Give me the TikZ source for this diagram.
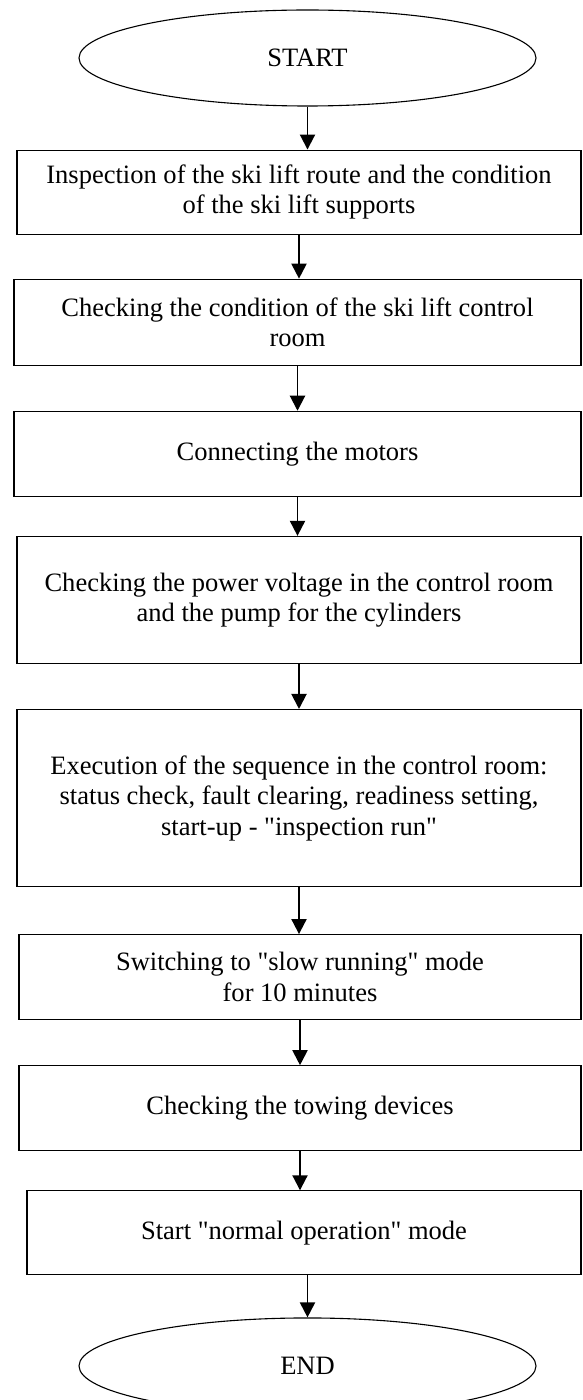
\documentclass[tikz,border=0pt]{standalone}
\usepackage{fontspec}
\setmainfont{Liberation Serif}[Ligatures=TeXOff]
\usepackage{tikz}
\usetikzlibrary{positioning}
\usetikzlibrary{shapes.geometric,arrows.meta}
\newlength{\px}
\setlength{\px}{0.4525pt}

\begin{document}
\begin{tikzpicture}[x=0.4525pt, y=-0.4525pt, node distance={44\px},
    stepbox/.style = {draw, rectangle, line width=0.5pt, align=center, font=\fontsize{12pt}{13.8pt}\selectfont},
    term/.style = {draw, ellipse, line width=0.5pt, minimum width=457\px, minimum height=96\px, font=\fontsize{12pt}{13.8pt}\selectfont},
    arr/.style = {line width=0.9pt, -{Triangle[length=6.8pt,width=6.8pt]}}]
            \useasboundingbox (0,0) rectangle (582,1400);
            % Nodes
            \node[term] (start) at (307.5,58) {START};
            \node[stepbox, minimum width=564\px, minimum height=84\px] (b1) [below=43\px of start, xshift=-8.5\px] {Inspection of the ski lift route and the condition\\of the ski lift supports};
            \node[stepbox, minimum width=567\px, minimum height=86\px] (b2) [below=44\px of b1, xshift=-1.5\px] {Checking the condition of the ski lift control\\room};
            \node[stepbox, minimum width=567\px, minimum height=85\px] (b3) [below=45\px of b2] {Connecting the motors};
            \node[stepbox, minimum width=564\px, minimum height=127\px] (b4) [below=39\px of b3, xshift=1.5\px] {Checking the power voltage in the control room\\and the pump for the cylinders};
            \node[stepbox, minimum width=564\px, minimum height=177\px] (b5) [below=45\px of b4] {Execution of the sequence in the control room:\\status check, fault clearing, readiness setting,\\start-up - "inspection run"};
            \node[stepbox, minimum width=562\px, minimum height=85\px] (b6) [below=47\px of b5, xshift=1\px] {Switching to "slow running" mode\\for 10 minutes};
            \node[stepbox, minimum width=562\px, minimum height=85\px] (b7) [below=45\px of b6] {Checking the towing devices};
            \node[stepbox, minimum width=554\px, minimum height=84\px] (b8) [below=39\px of b7, xshift=4\px] {Start "normal operation" mode};
            \node[term] (end) [below=42\px of b8, xshift=3.5\px] {END};
            % Edges
            \draw[arr] (start) -- (start |- b1.north);
            \draw[arr] (b1) -- (b1 |- b2.north);
            \draw[arr] (b2) -- (b2 |- b3.north);
            \draw[arr] (b3) -- (b3 |- b4.north);
            \draw[arr] (b4) -- (b4 |- b5.north);
            \draw[arr] (b5) -- (b5 |- b6.north);
            \draw[arr] (b6) -- (b6 |- b7.north);
            \draw[arr] (b7) -- (b7 |- b8.north);
            \draw[arr] (end |- b8.south) -- (end);
\end{tikzpicture}
\end{document}
